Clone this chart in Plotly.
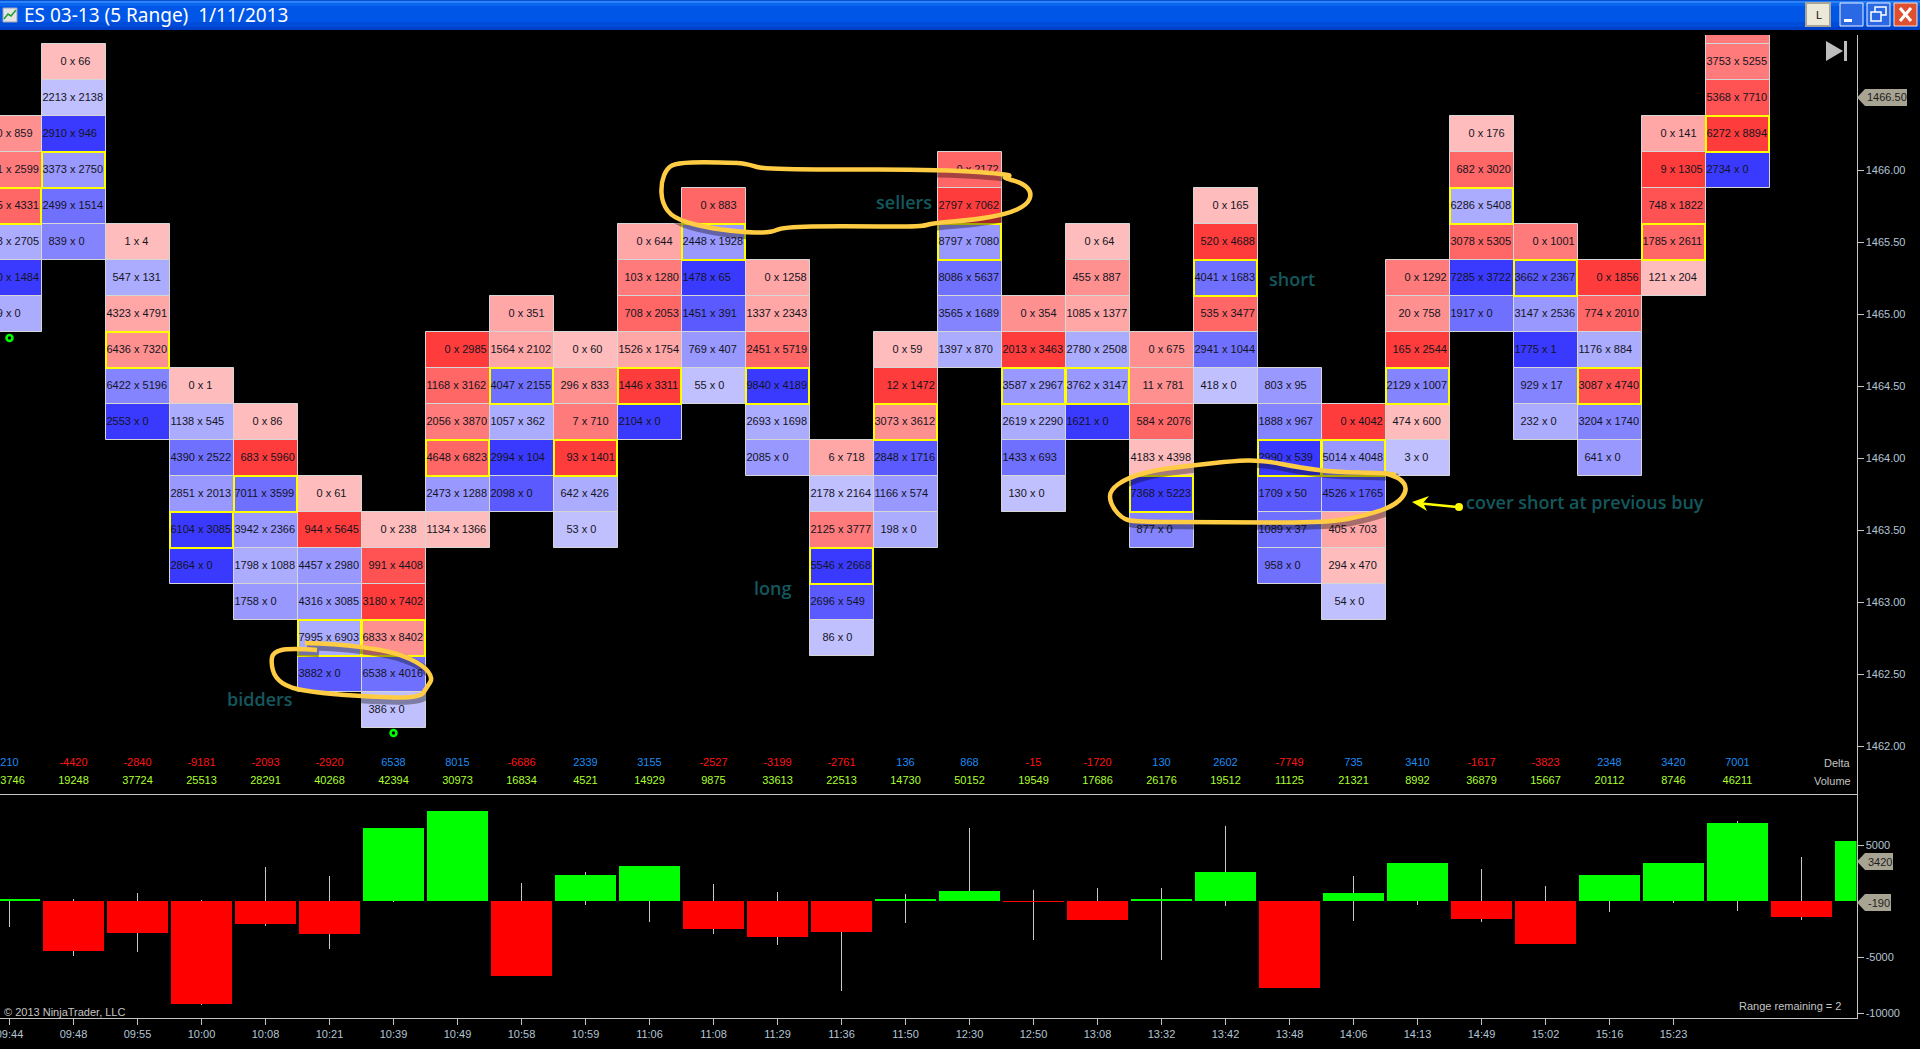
import plotly.graph_objects as go

W, H = 1920, 1049

# ---------- data ----------
times = ["09:44","09:48","09:55","10:00","10:08","10:21","10:39","10:49","10:58","10:59",
         "11:06","11:08","11:29","11:36","11:50","12:30","12:50","13:08","13:32","13:42",
         "13:48","14:06","14:13","14:49","15:02","15:16","15:23"]
deltas = [210,-4420,-2840,-9181,-2093,-2920,6538,8015,-6686,2339,3155,-2527,-3199,-2761,
          136,868,-15,-1720,130,2602,-7749,735,3410,-1617,-3823,2348,3420,7001]
volumes = [23746,19248,37724,25513,28291,40268,42394,30973,16834,4521,14929,9875,33613,22513,
           14730,50152,19549,17686,26176,19512,11125,21321,8992,36879,15667,20112,8746,46211]

# lower panel: bars and their wicks (the last two bars have no column above them)
net_delta = deltas + [-1400, 5390]
wick_high = [210,200,750,120,3065,2260,6538,8015,1640,2620,3155,1550,830,0,650,6520,1010,1190,
             1190,6730,0,2260,3410,2890,1370,2348,3420,7170,3930,5390]
wick_low = [-2350,-4880,-4520,-9320,-2200,-4250,-120,0,-6686,-330,-1845,-2920,-3900,-8000,-1930,
            0,-3450,-1720,-5300,-480,-7749,-1760,-330,-1900,-3823,-950,-210,-860,-1730,0]

# footprint columns: price of the top row, then rows from top to bottom
tops = [1466.25,1466.75,1465.5,1464.5,1464.25,1463.75,1463.5,1464.75,1465.0,1464.75,
        1465.5,1465.75,1465.25,1464.0,1464.75,1466.0,1465.0,1465.5,1464.75,1465.75,
        1464.5,1464.25,1465.25,1466.25,1465.5,1465.25,1466.25,1467.0]
bids = [
 [0,951,985,3003,2500,709],
 [0,2213,2910,3373,2499,839],
 [1,547,4323,6436,6422,2553],
 [0,1138,4390,2851,6104,2864],
 [0,683,7011,3942,1798,1758],
 [0,944,4457,4316,7995,3882],
 [0,991,3180,6833,6538,386],
 [0,1168,2056,4648,2473,1134],
 [0,1564,4047,1057,2994,2098],
 [0,296,7,93,642,53],
 [0,103,708,1526,1446,2104],
 [0,2448,1478,1451,769,55],
 [0,1337,2451,9840,2693,2085],
 [6,2178,2125,5546,2696,86],
 [0,12,3073,2848,1166,198],
 [0,2797,8797,8086,3565,1397],
 [0,2013,3587,2619,1433,130],
 [0,455,1085,2780,3762,1621],
 [0,11,584,4183,7368,877],
 [0,520,4041,535,2941,418],
 [803,1888,2990,1709,1089,958],
 [0,5014,4526,405,294,54],
 [0,20,165,2129,474,3],
 [0,682,6286,3078,7285,1917],
 [0,3662,3147,1775,929,232],
 [0,774,1176,3087,3204,641],
 [0,9,748,1785,121],
 [0,3753,5368,6272,2734],
]
asks = [
 [859,2599,4331,2705,1484,0],
 [66,2138,946,2750,1514,0],
 [4,131,4791,7320,5196,0],
 [1,545,2522,2013,3085,0],
 [86,5960,3599,2366,1088,0],
 [61,5645,2980,3085,6903,0],
 [238,4408,7402,8402,4016,0],
 [2985,3162,3870,6823,1288,1366],
 [351,2102,2155,362,104,0],
 [60,833,710,1401,426,0],
 [644,1280,2053,1754,3311,0],
 [883,1928,65,391,407,0],
 [1258,2343,5719,4189,1698,0],
 [718,2164,3777,2668,549,0],
 [59,1472,3612,1716,574,0],
 [2172,7062,7080,5637,1689,870],
 [354,3463,2967,2290,693,0],
 [64,887,1377,2508,3147,0],
 [675,781,2076,4398,5223,0],
 [165,4688,1683,3477,1044,0],
 [95,967,539,50,37,0],
 [4042,4048,1765,703,470,0],
 [1292,758,2544,1007,600,0],
 [176,3020,5408,5305,3722,0],
 [1001,2367,2536,1,17,0],
 [1856,2010,884,4740,1740,0],
 [141,1305,1822,2611,204],
 [2600,5255,7710,8894,0],
]
levels = [
 [3,4,5,2,7,2],
 [1,1,7,3,5,4],
 [1,2,2,3,4,7],
 [1,2,5,3,7,7],
 [1,7,5,3,2,3],
 [1,7,3,3,2,6],
 [1,6,7,3,5,1],
 [7,5,4,5,3,1],
 [2,2,5,2,7,6],
 [1,3,4,7,2,1],
 [2,4,5,2,7,7],
 [5,3,7,6,3,1],
 [2,2,5,7,2,3],
 [2,1,4,7,6,1],
 [1,7,3,6,3,2],
 [5,7,3,5,4,2],
 [3,7,3,2,5,1],
 [1,3,2,2,3,7],
 [3,3,5,1,7,4],
 [1,7,5,5,5,1],
 [3,4,7,6,5,5],
 [7,3,6,2,1,1],
 [4,3,7,4,1,1],
 [1,5,2,5,7,5],
 [4,6,3,7,4,2],
 [7,5,2,6,4,3],
 [2,7,6,5,1],
 [4,4,6,7,7],
]
poc_row = [2,3,3,4,2,4,3,3,2,3,4,1,3,3,2,2,2,4,4,2,2,1,3,2,1,3,3,3]

price_ticks = [1462.0,1462.5,1463.0,1463.5,1464.0,1464.5,1465.0,1465.5,1466.0]
delta_ticks = [5000,-5000,-10000]
pivot_cols = [0,6]
pivot_prices = [1464.833,1462.09]

# ---------- styling ----------
REDS = ["#FFBCBC","#FFA6A6","#FF9090","#FF7A7A","#FF6666","#FF5252","#FF3C3C"]
BLUES = ["#C0C0FF","#ACACFF","#9898FF","#8484FF","#7070FF","#5A5AFF","#3A3AFF"]
BORDER = "#D6D6D6"
AXIS = "#C4C4C4"
LABEL = "#B4C4D4"
TEAL = "#14585E"
MARKER = "#FFCC44"
FONT = "Liberation Sans"

PLOT_R = 1856.5
P_TOP, P_BOT, I_BOT = 35, 794, 1018
COL0, PITCH = 9.5, 64.0
RANGE_X = [(0 - COL0) / PITCH, (PLOT_R - COL0) / PITCH]
PRICE_PX = 144.0
RANGE_P = [1466 - (P_BOT - 170) / PRICE_PX, 1466 + (170 - P_TOP) / PRICE_PX]
DELTA_PX = 11.2 / 1000
RANGE_D = [-(I_BOT - 901) / DELTA_PX, (901 - P_BOT) / DELTA_PX]
X = lambda v: v / W
Y = lambda v: 1 - v / H

fig = go.Figure()

# ---------- footprint cells ----------
cx, cy, cc, px_, py_, pc = [], [], [], [], [], []
tx, ty, tt = [], [], []
for c, top in enumerate(tops):
    for r, (b, a, lv) in enumerate(zip(bids[c], asks[c], levels[c])):
        price = top - 0.25 * r
        col = (BLUES if b > a else REDS)[lv - 1]
        if r == poc_row[c]:
            px_.append(c); py_.append(price); pc.append(col)
        else:
            cx.append(c); cy.append(price); cc.append(col)
        tx.append(c - 0.5 + (1.0 + 6.0 * (4 - len(str(b)))) / PITCH)
        ty.append(price)
        tt.append(f"{b} x {a}")

fig.add_trace(go.Bar(x=cx, y=[0.25] * len(cy), base=[p - 0.125 for p in cy], width=1.0,
                     marker=dict(color=cc, line=dict(color=BORDER, width=1)), xaxis="x", yaxis="y"))
fig.add_trace(go.Bar(x=px_, y=[0.25] * len(py_), base=[p - 0.125 for p in py_], width=0.98,
                     marker=dict(color=pc, line=dict(color="#FFFF00", width=2)), xaxis="x", yaxis="y"))
fig.add_trace(go.Scatter(x=tx, y=ty, text=tt, mode="text", textposition="middle right",
                         textfont=dict(family=FONT, size=11, color="#14141E"), xaxis="x", yaxis="y"))
fig.add_trace(go.Scatter(x=pivot_cols, y=pivot_prices, mode="markers",
                         marker=dict(symbol="circle-open", size=6, color="#00FF00", line=dict(width=2.5, color="#00FF00")),
                         xaxis="x", yaxis="y"))

# ---------- delta / volume rows ----------
DELTA_Y = 1466 - (763 - 170) / PRICE_PX
VOL_Y = 1466 - (781 - 170) / PRICE_PX
fig.add_trace(go.Scatter(x=list(range(len(deltas))), y=[DELTA_Y] * len(deltas), text=[str(d) for d in deltas],
                         mode="text", textposition="middle center",
                         textfont=dict(family=FONT, size=11, color=["#1E8CF0" if d > 0 else "#FF1414" for d in deltas]),
                         xaxis="x", yaxis="y"))
fig.add_trace(go.Scatter(x=list(range(len(volumes))), y=[VOL_Y] * len(volumes), text=[str(v) for v in volumes],
                         mode="text", textposition="middle center",
                         textfont=dict(family=FONT, size=11, color="#ADFF2F"), xaxis="x", yaxis="y"))

# ---------- lower panel ----------
xs = list(range(len(net_delta)))
fig.add_trace(go.Bar(x=xs, y=[h - l for h, l in zip(wick_high, wick_low)], base=wick_low, width=1 / PITCH,
                     marker=dict(color="#C8C8C8", line=dict(width=0)), xaxis="x2", yaxis="y2"))
fig.add_trace(go.Bar(x=xs, y=net_delta, width=61 / PITCH,
                     marker=dict(color=["#00FF00" if d > 0 else "#FF0000" for d in net_delta], line=dict(width=0)),
                     xaxis="x2", yaxis="y2"))

# ---------- window chrome and hand-drawn marks ----------
shapes, annos = [], []


def rect(x0, y0, x1, y1, fill, line=None, lw=0):
    shapes.append(dict(type="rect", xref="paper", yref="paper", x0=X(x0), x1=X(x1), y0=Y(y1), y1=Y(y0),
                       fillcolor=fill, line=dict(color=line or fill, width=lw), layer="above"))


def pathstr(points, closed=False):
    s = "M " + " L ".join(f"{X(a):.5f} {Y(b):.5f}" for a, b in points)
    return s + (" Z" if closed else "")


def poly(points, fill):
    shapes.append(dict(type="path", xref="paper", yref="paper", path=pathstr(points, True),
                       fillcolor=fill, line=dict(width=0), layer="above"))


def smooth(points):
    s = f"M {X(points[0][0]):.5f} {Y(points[0][1]):.5f}"
    for i in range(1, len(points) - 1):
        mx = (points[i][0] + points[i + 1][0]) / 2
        my = (points[i][1] + points[i + 1][1]) / 2
        s += f" Q {X(points[i][0]):.5f} {Y(points[i][1]):.5f} {X(mx):.5f} {Y(my):.5f}"
    s += f" L {X(points[-1][0]):.5f} {Y(points[-1][1]):.5f}"
    return s


def stroke(points, color=MARKER, width=4.5, shadow=True):
    if shadow:
        off = [(a + 2, b + 3) for a, b in points]
        shapes.append(dict(type="path", xref="paper", yref="paper", path=smooth(off),
                           line=dict(color="rgba(0,0,0,0.35)", width=width + 4), layer="above"))
    shapes.append(dict(type="path", xref="paper", yref="paper", path=smooth(points),
                       line=dict(color=color, width=width), layer="above"))


def text(x, y, s, size=11, color=LABEL, anchor="center", family=FONT, weight=None):
    f = dict(family=family, size=size, color=color)
    if weight:
        f["weight"] = weight
    annos.append(dict(xref="paper", yref="paper", x=X(x), y=Y(y), text=s, showarrow=False, xanchor=anchor,
                      yanchor="middle", font=f, borderpad=0))


# title bar
for y0, y1, col in [(0, 1, "#0A50D0"), (1, 3, "#2A84F8"), (3, 6, "#0A66EE"), (6, 22, "#0056E6"),
                    (22, 27, "#004CDA"), (27, 30, "#0040C8")]:
    rect(0, y0, W, y1, col)
rect(3, 8, 17, 22, "#E4E4E4", "#9AA4B4", 1)
shapes.append(dict(type="path", xref="paper", yref="paper", path=pathstr([(4, 19), (8, 14), (11, 16), (16, 10)]),
                   line=dict(color="#20A030", width=1.5), layer="above"))
text(23, 15, "ES 03-13 (5 Range)&nbsp;&nbsp;1/11/2013", size=19, color="#FFFFFF", anchor="left", family="Noto Sans")
rect(1806, 3, 1830, 26, "#ECE9D8", "#A8A498", 2)
text(1818.5, 15, "L", size=11, color="#101010")
rect(1840, 3, 1863, 26, "#2A68E4", "#E8F0FF", 1)
rect(1844, 19, 1852, 22, "#FFFFFF")
rect(1867, 3, 1890, 26, "#2A68E4", "#E8F0FF", 1)
rect(1875, 7, 1886, 15, "rgba(0,0,0,0)", "#FFFFFF", 1.5)
rect(1871, 12, 1881, 21, "#2A68E4", "#FFFFFF", 1.5)
rect(1894, 3, 1917, 26, "#DE5030", "#F4E0D8", 1)
for seg in ([(1900, 8), (1911, 21)], [(1911, 8), (1900, 21)]):
    shapes.append(dict(type="path", xref="paper", yref="paper", path=pathstr(seg),
                       line=dict(color="#FFFFFF", width=3), layer="above"))

# go-to-end icon
poly([(1826, 41), (1843, 51), (1826, 61)], "#BDBDBD")
rect(1844, 41, 1847, 61, "#BDBDBD")

# current value tags
for y, x1, s in [(97.5, 1907, "1466.50"), (861.5, 1893, "3420"), (902.5, 1891, "-190")]:
    poly([(1857, y), (1865, y - 8.5), (x1, y - 8.5), (x1, y + 8.5), (1865, y + 8.5)], "#A8A494")
    text((1865 + x1) / 2 + 0.5, y, s, size=11, color="#1C1C1C")

# hand-drawn ellipses (full-size pixel positions of the pen strokes)
sellers_ring = [(738, 163), (707, 162), (677, 163), (667, 168), (661, 183), (662, 203), (673, 218), (703, 227),
                (740, 232), (770, 233), (783, 227), (840, 226), (920, 227), (933, 223), (973, 220), (1007, 214),
                (1027, 205), (1032, 193), (1023, 183), (1000, 177), (1016, 175), (940, 169), (767, 170), (747, 164),
                (738, 163)]
cover_ring = [(1384, 473), (1400, 477), (1408, 490), (1396, 505), (1368, 515), (1327, 523), (1212, 522), (1135, 522),
              (1121, 518), (1110, 503), (1110, 490), (1127, 478), (1155, 470), (1196, 465), (1233, 461), (1261, 460),
              (1302, 468), (1335, 472), (1384, 473), (1396, 475)]
bidders_ring = [(317, 650), (290, 648), (273, 652), (271, 663), (275, 678), (290, 688), (320, 693), (370, 697),
                (420, 698), (427, 687), (433, 678), (423, 665), (397, 653), (363, 647), (333, 644), (305, 643)]
for ring in (sellers_ring, cover_ring, bidders_ring):
    stroke(ring)

# arrow to the note
stroke([(1457, 507), (1436, 505), (1417, 503)], color="#FFFF00", width=2.5, shadow=False)
poly([(1412, 502), (1429, 496), (1423, 503), (1427, 511)], "#FFFF00")
shapes.append(dict(type="circle", xref="paper", yref="paper", x0=X(1455), x1=X(1463), y0=Y(511), y1=Y(503),
                   fillcolor="#FFFF00", line=dict(width=0), layer="above"))

for x, y, s in [(904, 202, "sellers"), (1292, 279, "short"), (772, 588, "long"), (260, 699, "bidders")]:
    text(x, y, s, size=18, color=TEAL, family="Open Sans", weight=600)
text(1585, 502, "cover short at previous buy", size=18, color=TEAL, family="Open Sans", weight=600)

text(1852, 763, "Delta", size=11, color="#C4C4C4", anchor="right")
text(1852, 781, "Volume", size=11, color="#C4C4C4", anchor="right")
text(3, 1012, "© 2013 NinjaTrader, LLC", size=11, color="#C4C4C4", anchor="left")
text(1842, 1006, "Range remaining = 2", size=11, color="#C4C4C4", anchor="right")

axis_common = dict(showgrid=False, zeroline=False, automargin=False)
fig.update_layout(
    width=W, height=H, margin=dict(l=0, r=0, t=0, b=0), autosize=False,
    paper_bgcolor="#000000", plot_bgcolor="#000000", showlegend=False, barmode="overlay", bargap=0,
    hovermode=False, shapes=shapes, annotations=annos,
    xaxis=dict(domain=[0, PLOT_R / W], range=RANGE_X, anchor="y", showticklabels=False, ticks="",
               showline=True, linecolor=AXIS, linewidth=1, **axis_common),
    yaxis=dict(domain=[1 - P_BOT / H, 1 - P_TOP / H], range=RANGE_P, side="right", anchor="x",
               tickvals=price_ticks, ticktext=[f"{p:.2f}" for p in price_ticks], ticks="outside", ticklen=6,
               tickcolor=AXIS, showline=True, linecolor=AXIS, linewidth=1,
               tickfont=dict(family=FONT, size=11, color=LABEL), **axis_common),
    xaxis2=dict(domain=[0, PLOT_R / W], range=RANGE_X, anchor="y2", tickvals=list(range(len(times))),
                ticktext=times, ticks="outside", ticklen=6, tickcolor=AXIS, showline=True, linecolor=AXIS,
                linewidth=1, tickangle=0, ticklabeloverflow="allow",
                tickfont=dict(family=FONT, size=11, color=LABEL), **axis_common),
    yaxis2=dict(domain=[1 - I_BOT / H, 1 - P_BOT / H], range=RANGE_D, side="right", anchor="x2",
                tickvals=delta_ticks, ticktext=[str(d) for d in delta_ticks], ticks="outside", ticklen=6,
                tickcolor=AXIS, showline=True, linecolor=AXIS, linewidth=1,
                tickfont=dict(family=FONT, size=11, color=LABEL), **axis_common),
)

fig.write_html("out.html", config=dict(displayModeBar=False),
               post_script="document.body.style.margin='0';document.body.style.background='#000';document.body.style.overflow='hidden';")
